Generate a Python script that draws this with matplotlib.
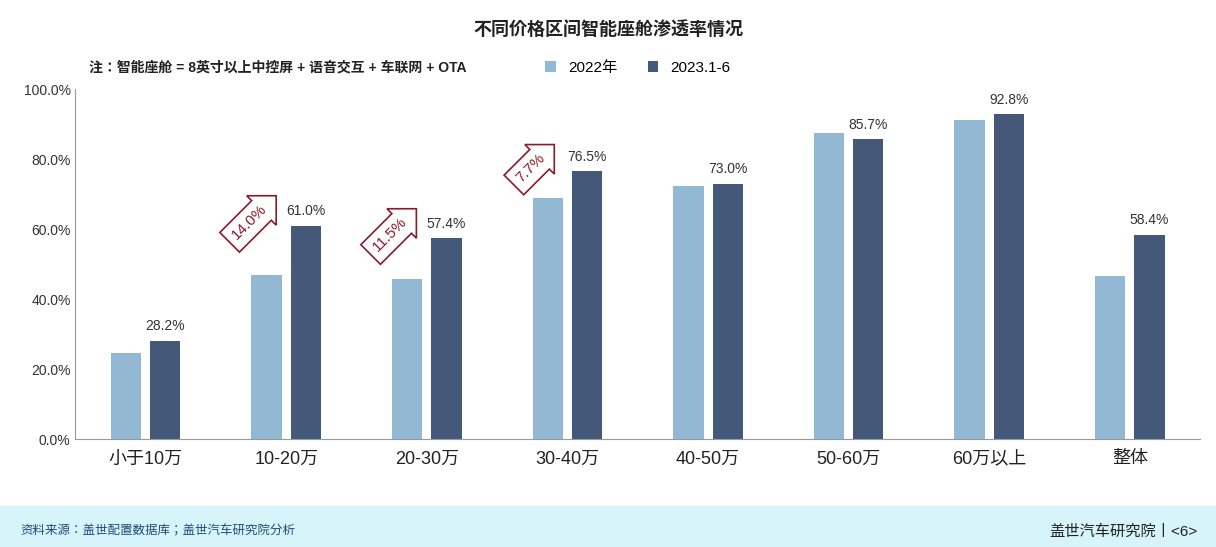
import matplotlib
matplotlib.use("Agg")
import matplotlib.pyplot as plt
import numpy as np

plt.rcParams['font.family'] = ['Liberation Sans', 'Noto Sans CJK JP', 'DejaVu Sans']

categories = ["小于10万", "10-20万", "20-30万", "30-40万", "40-50万", "50-60万", "60万以上", "整体"]
v2022 = [24.6, 46.9, 45.7, 68.9, 72.3, 87.4, 91.1, 46.6]
v2023 = [28.2, 61.0, 57.4, 76.5, 73.0, 85.7, 92.8, 58.4]
arrow_idx = [1, 2, 3]
arrow_labels = ["14.0%", "11.5%", "7.7%"]

fig = plt.figure(figsize=(12.16, 5.47), dpi=100)
fig.patch.set_facecolor("white")
ax = fig.add_axes([0.062, 0.197, 0.925, 0.64])
x = np.arange(len(categories))
w = 0.215
ax.bar(x - 0.14, v2022, w, color="#93b8d4", label="2022年")
ax.bar(x + 0.14, v2023, w, color="#44597a", label="2023.1-6")
for xi, v in zip(x, v2023):
    ax.text(xi + 0.14, v + 2.2, f"{v:.1f}%", ha="center", va="bottom", fontsize=10, color="#333333")
for i, lab in zip(arrow_idx, arrow_labels):
    ax.text(i - 0.26, v2023[i] + 1, lab, rotation=45, ha="center", va="center", fontsize=11,
            color="#8b1a2b", bbox=dict(boxstyle="rarrow,pad=0.45", fc="white", ec="#8b1a2b", lw=1.2))
ax.set_xlim(-0.5, 7.5)
ax.set_ylim(0, 100)
ax.set_yticks(np.arange(0, 101, 20))
ax.set_yticklabels([f"{t:.1f}%" for t in range(0, 101, 20)], fontsize=10, color="#333333")
ax.set_xticks(x)
ax.set_xticklabels(categories, fontsize=13, color="#222222")
for s in ["top", "right"]:
    ax.spines[s].set_visible(False)
ax.spines["left"].set_color("#999999")
ax.spines["bottom"].set_color("#999999")
ax.tick_params(axis="both", length=0)
ax.tick_params(axis="x", pad=8)
ax.legend(loc="upper center", bbox_to_anchor=(0.5, 1.12), ncol=2, frameon=False, fontsize=11,
          handlelength=0.7, handleheight=0.7, columnspacing=2)

fig.text(0.5, 0.945, "不同价格区间智能座舱渗透率情况", ha="center", va="center", fontsize=13, fontweight="bold", color="#222222")
fig.text(0.073, 0.877, "注：智能座舱 = 8英寸以上中控屏 + 语音交互 + 车联网 + OTA", ha="left", va="center", fontsize=10, fontweight="bold", color="#222222")

band = plt.Rectangle((0, 0), 1, 0.075, transform=fig.transFigure, color="#d7f4fa", zorder=0)
fig.patches.append(band)
fig.text(0.017, 0.028, "资料来源：盖世配置数据库；盖世汽车研究院分析", ha="left", va="center", fontsize=9, style="italic", color="#1f4e79")
fig.text(0.985, 0.028, "盖世汽车研究院丨<6>", ha="right", va="center", fontsize=11, color="#222222")
fig.savefig("out.png", dpi=100)
